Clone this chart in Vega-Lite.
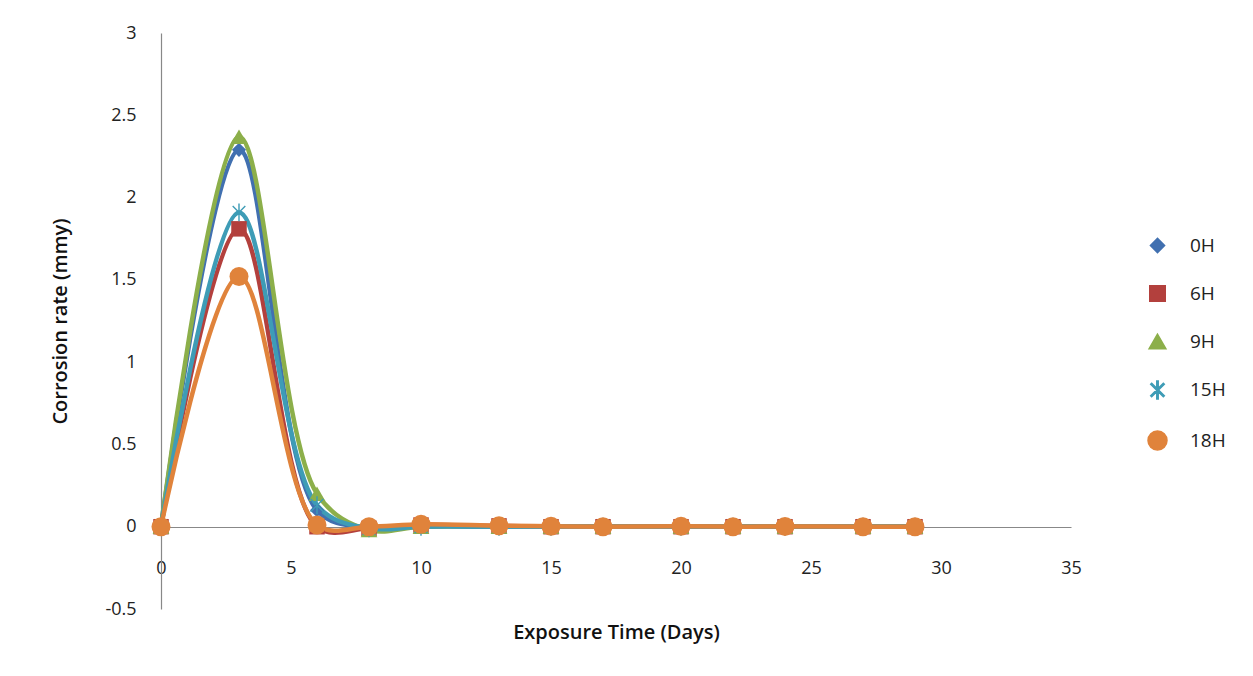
{
  "$schema": "https://vega.github.io/schema/vega-lite/v6.json",
  "width": 910,
  "height": 576,
  "autosize": {"type": "none"},
  "padding": {"left": 161, "top": 33, "right": 182, "bottom": 67},
  "background": "white",
  "config": {"view": {"stroke": null}, "font": "Open Sans", "axis": {"grid": false}},
  "data": {
    "values": [
      {"t": 0, "s": "0H", "v": 0}, {"t": 3, "s": "0H", "v": 2.29}, {"t": 6, "s": "0H", "v": 0.1}, {"t": 8, "s": "0H", "v": -0.005}, {"t": 10, "s": "0H", "v": 0.005}, {"t": 13, "s": "0H", "v": 0.002}, {"t": 15, "s": "0H", "v": 0}, {"t": 17, "s": "0H", "v": 0}, {"t": 20, "s": "0H", "v": 0}, {"t": 22, "s": "0H", "v": 0}, {"t": 24, "s": "0H", "v": 0}, {"t": 27, "s": "0H", "v": 0}, {"t": 29, "s": "0H", "v": 0},
      {"t": 0, "s": "6H", "v": 0}, {"t": 3, "s": "6H", "v": 1.81}, {"t": 6, "s": "6H", "v": 0}, {"t": 8, "s": "6H", "v": -0.01}, {"t": 10, "s": "6H", "v": 0.01}, {"t": 13, "s": "6H", "v": 0.005}, {"t": 15, "s": "6H", "v": 0}, {"t": 17, "s": "6H", "v": 0}, {"t": 20, "s": "6H", "v": 0}, {"t": 22, "s": "6H", "v": 0}, {"t": 24, "s": "6H", "v": 0}, {"t": 27, "s": "6H", "v": 0}, {"t": 29, "s": "6H", "v": 0},
      {"t": 0, "s": "9H", "v": 0}, {"t": 3, "s": "9H", "v": 2.37}, {"t": 6, "s": "9H", "v": 0.2}, {"t": 8, "s": "9H", "v": -0.02}, {"t": 10, "s": "9H", "v": 0}, {"t": 13, "s": "9H", "v": 0}, {"t": 15, "s": "9H", "v": 0}, {"t": 17, "s": "9H", "v": 0}, {"t": 20, "s": "9H", "v": 0}, {"t": 22, "s": "9H", "v": 0}, {"t": 24, "s": "9H", "v": 0}, {"t": 27, "s": "9H", "v": 0}, {"t": 29, "s": "9H", "v": 0},
      {"t": 0, "s": "15H", "v": 0}, {"t": 3, "s": "15H", "v": 1.91}, {"t": 6, "s": "15H", "v": 0.13}, {"t": 8, "s": "15H", "v": -0.01}, {"t": 10, "s": "15H", "v": 0}, {"t": 13, "s": "15H", "v": 0}, {"t": 15, "s": "15H", "v": 0}, {"t": 17, "s": "15H", "v": 0}, {"t": 20, "s": "15H", "v": 0}, {"t": 22, "s": "15H", "v": 0}, {"t": 24, "s": "15H", "v": 0}, {"t": 27, "s": "15H", "v": 0}, {"t": 29, "s": "15H", "v": 0},
      {"t": 0, "s": "18H", "v": 0}, {"t": 3, "s": "18H", "v": 1.52}, {"t": 6, "s": "18H", "v": 0.01}, {"t": 8, "s": "18H", "v": 0}, {"t": 10, "s": "18H", "v": 0.015}, {"t": 13, "s": "18H", "v": 0.006}, {"t": 15, "s": "18H", "v": 0.003}, {"t": 17, "s": "18H", "v": 0}, {"t": 20, "s": "18H", "v": 0.003}, {"t": 22, "s": "18H", "v": 0}, {"t": 24, "s": "18H", "v": 0.002}, {"t": 27, "s": "18H", "v": 0}, {"t": 29, "s": "18H", "v": 0}
    ]
  },
  "encoding": {
    "x": {
      "field": "t", "type": "quantitative",
      "scale": {"domain": [0, 35], "nice": false, "zero": false},
      "axis": {
        "title": "Exposure Time (Days)", "values": [0, 5, 10, 15, 20, 25, 30, 35],
        "offset": -82, "domainColor": "#888888", "domainWidth": 1.2, "ticks": false, "tickSize": 0,
        "labelPadding": 41, "labelBaseline": "middle", "labelFontSize": 18, "labelColor": "#222222",
        "labelFlush": false, "labelExpr": "datum.value + ''",
        "titleFontSize": 20, "titleFontWeight": 600, "titleColor": "#111111", "titleY": 105, "titleBaseline": "middle"
      }
    },
    "y": {
      "field": "v", "type": "quantitative",
      "scale": {"domain": [-0.5, 3], "nice": false, "zero": false},
      "axis": {
        "title": "Corrosion rate (mmy)", "values": [-0.5, 0, 0.5, 1, 1.5, 2, 2.5, 3],
        "domainColor": "#888888", "domainWidth": 1.2, "ticks": false, "tickSize": 0,
        "labelPadding": 25, "labelFontSize": 18, "labelColor": "#222222", "labelExpr": "datum.value + ''",
        "labelFlush": false,
        "titleFontSize": 20, "titleFontWeight": 600, "titleColor": "#111111", "titleX": -101, "titleBaseline": "middle"
      }
    },
    "color": {
      "field": "s", "type": "nominal",
      "scale": {"domain": ["0H", "6H", "9H", "15H", "18H"], "range": ["#4170B0", "#B3403D", "#8CAF4A", "#3E9CB6", "#E0833B"]},
      "legend": {
        "title": null, "orient": "none", "legendX": 986, "legendY": 203,
        "labelFontSize": 19, "labelColor": "#222222", "labelOffset": 22, "rowPadding": 26
      }
    }
  },
  "layer": [
    {
      "mark": {"type": "line", "interpolate": "catmull-rom", "strokeWidth": 4.5}
    },
    {
      "mark": {"type": "point", "filled": true, "opacity": 1},
      "encoding": {
        "shape": {
          "field": "s", "type": "nominal",
          "scale": {"domain": ["0H", "6H", "9H", "15H", "18H"], "range": ["diamond", "square", "triangle-up", "M-0.08,-1L0.08,-1L0.08,1L-0.08,1Z M-0.65,-0.76L0.76,0.65L0.65,0.76L-0.76,-0.65Z M0.76,-0.65L-0.65,0.76L-0.76,0.65L0.65,-0.76Z", "circle"]},
          "legend": null
        },
        "size": {
          "field": "s", "type": "nominal",
          "scale": {"domain": ["0H", "6H", "9H", "15H", "18H"], "range": [200, 361, 256, 324, 290]},
          "legend": null
        }
      }
    }
  ]
}
